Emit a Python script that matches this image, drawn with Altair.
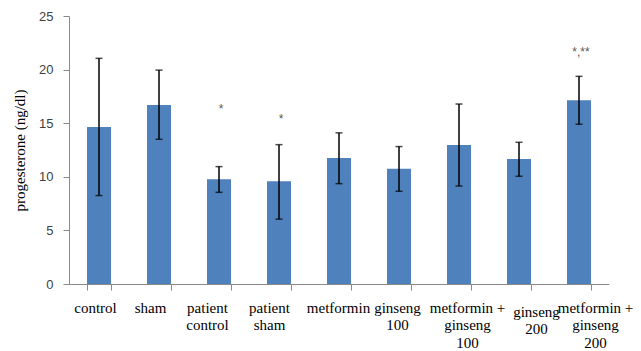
import altair as alt
import pandas as pd

categories = ["control", "sham", "patient|control", "patient|sham", "metformin",
              "ginseng|100", "metformin +|ginseng|100", "ginseng|200", "metformin +|ginseng| 200"]
means = [14.65, 16.7, 9.77, 9.58, 11.75, 10.76, 12.97, 11.66, 17.14]
err_low = [8.25, 13.5, 8.55, 6.05, 9.36, 8.65, 9.14, 10.05, 14.9]
err_high = [21.05, 19.95, 10.95, 13.0, 14.1, 12.82, 16.79, 13.22, 19.37]
sig_text = ["", "", "*", "*", "", "", "", "", "*,**"]
sig_y = [None, None, 16.3, 15.4, None, None, None, None, 21.6]

df = pd.DataFrame({"cat": categories, "mean": means, "lo": err_low, "hi": err_high})
sig = pd.DataFrame({"cat": categories, "txt": sig_text, "y": sig_y}).dropna()

# horizontal / vertical nudges of the wrapped category labels (styling only)
label_nudge = [-4, -9, -12, -10, -1, -2, 8, 17, 16]
offset_cond = {
    "condition": [{"test": f"datum.value === '{c}'", "value": n}
                  for c, n in zip(categories, label_nudge)],
    "value": 0,
}
padding_cond = {
    "condition": {"test": "datum.value === 'ginseng|200'", "value": 14},
    "value": 10,
}

x = alt.X("cat:N", sort=categories,
          scale=alt.Scale(paddingInner=0.6, paddingOuter=0.3),
          axis=alt.Axis(title=None, labelAngle=0, labelExpr="split(datum.label, '|')",
                        labelFont="Liberation Serif", labelFontSize=15, labelColor="black",
                        labelLineHeight=17.5, labelPadding=padding_cond, labelBaseline="top",
                        labelOffset=offset_cond,
                        tickBand="extent", tickSize=6, tickColor="#898989",
                        domainColor="#898989", labelLimit=200, labelOverlap=False))
y_axis = alt.Axis(title="progesterone (ng/dl)", titleFont="Liberation Serif", titleFontSize=15,
                  titleFontWeight="normal", titleColor="black", titlePadding=11,
                  values=[0, 5, 10, 15, 20, 25], labelFont="Liberation Sans", labelFontSize=13,
                  labelColor="#404040", labelPadding=10, tickSize=6, tickColor="#898989",
                  domainColor="#898989", grid=False)

bars = alt.Chart(df).mark_bar(color="#4F81BD").encode(
    x=x,
    y=alt.Y("mean:Q", scale=alt.Scale(domain=[0, 25], nice=False), axis=y_axis),
)
rules = alt.Chart(df).mark_rule(color="black", strokeWidth=1.5).encode(
    x=alt.X("cat:N", sort=categories), y="lo:Q", y2="hi:Q")
cap_lo = alt.Chart(df).mark_tick(color="black", size=7, thickness=1.5).encode(
    x=alt.X("cat:N", sort=categories), y="lo:Q")
cap_hi = alt.Chart(df).mark_tick(color="black", size=7, thickness=1.5).encode(
    x=alt.X("cat:N", sort=categories), y="hi:Q")
stars = alt.Chart(sig).mark_text(color="#595959", font="Liberation Sans", fontSize=12,
                                 baseline="middle", dx=2).encode(
    x=alt.X("cat:N", sort=categories), y="y:Q", text="txt:N")

chart = alt.layer(bars, rules, cap_lo, cap_hi, stars).properties(
    width=540, height=268,
    autosize=alt.AutoSizeParams(type="none"),
    padding={"left": 61, "top": 8, "right": 24, "bottom": 66},
).configure_view(stroke=None)

chart.save("out.html", embed_options={"renderer": "svg", "actions": False})
